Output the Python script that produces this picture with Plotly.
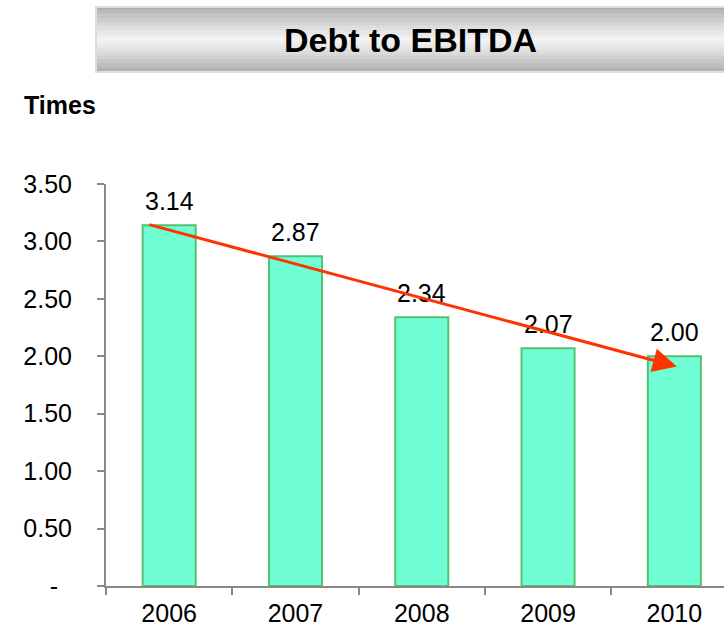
import plotly.graph_objects as go

# ---- data ----
years = ["2006", "2007", "2008", "2009", "2010"]
ratios = [3.14, 2.87, 2.34, 2.07, 2.00]
label_text = ["3.14", "2.87", "2.34", "2.07", "2.00"]
y_tickvals = [0, 0.5, 1.0, 1.5, 2.0, 2.5, 3.0, 3.5]
y_ticktext = ["-\u00a0\u00a0", "0.50", "1.00", "1.50", "2.00", "2.50", "3.00", "3.50"]
# trend arrow (category index, value)
trend_start = (-0.17, 3.15)
trend_end = (4.02, 1.91)

FONT = "Liberation Sans, Arial, sans-serif"

W, H = 724, 634
L, R, T, B = 106, 0, 184, 48
pw, ph = W - L - R, H - T - B

fig = go.Figure()
fig.add_trace(go.Bar(
    x=years, y=ratios,
    marker=dict(color="#70FFD4", line=dict(color="#55C070", width=2)),
    showlegend=False, hoverinfo="x+y",
))

annotations = []
for i, (v, t) in enumerate(zip(ratios, label_text)):
    annotations.append(dict(x=i, y=v, xref="x", yref="y", text=t, showarrow=False,
                            xanchor="center", yanchor="bottom", yshift=8,
                            font=dict(family=FONT, size=25, color="#000000")))

# trend arrow
annotations.append(dict(x=trend_end[0], y=trend_end[1], ax=trend_start[0], ay=trend_start[1],
                        xref="x", yref="y", axref="x", ayref="y", text="",
                        showarrow=True, arrowhead=2, arrowsize=1.6, arrowwidth=3,
                        arrowcolor="#FF3300"))

# "Times" unit label
annotations.append(dict(x=(22 - L) / pw, y=(H - B - 105) / ph, xref="paper", yref="paper",
                        text="<b>Times</b>", showarrow=False, xanchor="left", yanchor="middle",
                        font=dict(family=FONT, size=25, color="#000")))

# title banner with vertical gradient
def px_x(x):
    return (x - L) / pw

def px_y(y):
    return (H - B - y) / ph

shapes = []
top, bot = 7, 72
n = 40
def gray_at(f):
    mid = 0.5
    dark_top, light, dark_bot = 168, 242, 168
    if f < mid:
        g = dark_top + (light - dark_top) * (f / mid) ** 0.8
    else:
        g = light + (dark_bot - light) * ((f - mid) / (1 - mid)) ** 1.2
    return int(round(g))

for k in range(n):
    y0 = top + (bot - top) * k / n
    y1 = top + (bot - top) * (k + 1) / n + 0.3
    g = gray_at((k + 0.5) / n)
    shapes.append(dict(type="rect", xref="paper", yref="paper",
                       x0=px_x(96), x1=px_x(730), y0=px_y(y1), y1=px_y(y0),
                       fillcolor=f"rgb({g},{g},{g})", line=dict(width=0), layer="below"))
shapes.append(dict(type="rect", xref="paper", yref="paper",
                   x0=px_x(96), x1=px_x(730), y0=px_y(bot), y1=px_y(top),
                   fillcolor="rgba(0,0,0,0)", line=dict(color="#DDDDDD", width=2), layer="below"))

annotations.append(dict(x=px_x(410), y=px_y(40), xref="paper", yref="paper",
                        text="<b>Debt to EBITDA</b>", showarrow=False,
                        xanchor="center", yanchor="middle",
                        font=dict(family=FONT, size=34, color="#000")))

fig.update_layout(
    width=W, height=H,
    margin=dict(l=L, r=R, t=T, b=B, pad=0),
    paper_bgcolor="white", plot_bgcolor="white",
    bargap=0.58,
    font=dict(family=FONT, size=25, color="#000"),
    annotations=annotations, shapes=shapes,
    xaxis=dict(type="category", range=[-0.5, -0.5 + pw / 126.3],
               showline=True, linecolor="#888888", linewidth=2,
               ticks="outside", tickson="boundaries", ticklen=7, tickcolor="#888888", tickwidth=2,
               showgrid=False, zeroline=False,
               tickfont=dict(family=FONT, size=25, color="#000"), ticklabelstandoff=4),
    yaxis=dict(range=[0, 3.5], tickvals=y_tickvals, ticktext=y_ticktext,
               showline=True, linecolor="#888888", linewidth=2,
               ticks="outside", ticklen=7, tickcolor="#888888", tickwidth=2,
               showgrid=False, zeroline=False,
               tickfont=dict(family=FONT, size=25, color="#000"), ticklabelstandoff=20),
)

fig.write_html("out.html")
